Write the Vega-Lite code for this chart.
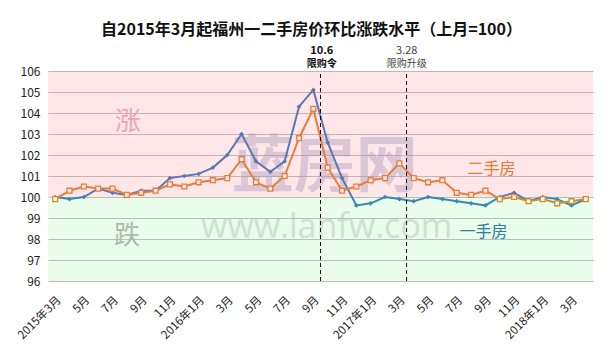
{
  "$schema": "https://vega.github.io/schema/vega-lite/v6.json",
  "width": 545,
  "height": 210,
  "autosize": {"type": "none"},
  "padding": {"left": 48, "top": 71, "right": 23, "bottom": 74},
  "background": "white",
  "data": {"values": [{}]},
  "title": {"text": "自2015年3月起福州一二手房价环比涨跌水平（上月=100）", "fontSize": 16, "fontWeight": "bold", "font": "Noto Sans CJK SC", "color": "#111", "anchor": "middle", "offset": 7, "dx": -9},
  "config": {
    "font": "Noto Sans CJK SC",
    "view": {"stroke": null},
    "axisX": {"title": null, "labelAngle": -45, "labelFontSize": 11.5, "labelColor": "#222", "ticks": false, "domain": false, "grid": false, "labelPadding": 13},
    "axisY": {"title": null, "labelFontSize": 12, "labelColor": "#222", "ticks": false, "domain": false, "grid": true, "gridColor": "#bdbdbd", "labelPadding": 8, "labelOverlap": false, "tickCount": 10}
  },
  "datasets": {
    "rows": [
      {"m": "2015-03", "type": "一手房", "v": 100.0}, {"m": "2015-04", "type": "一手房", "v": 99.9},
      {"m": "2015-05", "type": "一手房", "v": 100.0}, {"m": "2015-06", "type": "一手房", "v": 100.4},
      {"m": "2015-07", "type": "一手房", "v": 100.2}, {"m": "2015-08", "type": "一手房", "v": 100.1},
      {"m": "2015-09", "type": "一手房", "v": 100.3}, {"m": "2015-10", "type": "一手房", "v": 100.3},
      {"m": "2015-11", "type": "一手房", "v": 100.9}, {"m": "2015-12", "type": "一手房", "v": 101.0},
      {"m": "2016-01", "type": "一手房", "v": 101.1}, {"m": "2016-02", "type": "一手房", "v": 101.4},
      {"m": "2016-03", "type": "一手房", "v": 102.0}, {"m": "2016-04", "type": "一手房", "v": 103.0},
      {"m": "2016-05", "type": "一手房", "v": 101.7}, {"m": "2016-06", "type": "一手房", "v": 101.2},
      {"m": "2016-07", "type": "一手房", "v": 101.7}, {"m": "2016-08", "type": "一手房", "v": 104.3},
      {"m": "2016-09", "type": "一手房", "v": 105.1}, {"m": "2016-10", "type": "一手房", "v": 102.6},
      {"m": "2016-11", "type": "一手房", "v": 100.9}, {"m": "2016-12", "type": "一手房", "v": 99.6},
      {"m": "2017-01", "type": "一手房", "v": 99.7}, {"m": "2017-02", "type": "一手房", "v": 100.0},
      {"m": "2017-03", "type": "一手房", "v": 99.9}, {"m": "2017-04", "type": "一手房", "v": 99.8},
      {"m": "2017-05", "type": "一手房", "v": 100.0}, {"m": "2017-06", "type": "一手房", "v": 99.9},
      {"m": "2017-07", "type": "一手房", "v": 99.8}, {"m": "2017-08", "type": "一手房", "v": 99.7},
      {"m": "2017-09", "type": "一手房", "v": 99.6}, {"m": "2017-10", "type": "一手房", "v": 100.0},
      {"m": "2017-11", "type": "一手房", "v": 100.2}, {"m": "2017-12", "type": "一手房", "v": 99.8},
      {"m": "2018-01", "type": "一手房", "v": 100.0}, {"m": "2018-02", "type": "一手房", "v": 99.9},
      {"m": "2018-03", "type": "一手房", "v": 99.6}, {"m": "2018-04", "type": "一手房", "v": 99.9},
      {"m": "2015-03", "type": "二手房", "v": 99.9}, {"m": "2015-04", "type": "二手房", "v": 100.3},
      {"m": "2015-05", "type": "二手房", "v": 100.5}, {"m": "2015-06", "type": "二手房", "v": 100.4},
      {"m": "2015-07", "type": "二手房", "v": 100.4}, {"m": "2015-08", "type": "二手房", "v": 100.1},
      {"m": "2015-09", "type": "二手房", "v": 100.2}, {"m": "2015-10", "type": "二手房", "v": 100.3},
      {"m": "2015-11", "type": "二手房", "v": 100.6}, {"m": "2015-12", "type": "二手房", "v": 100.5},
      {"m": "2016-01", "type": "二手房", "v": 100.7}, {"m": "2016-02", "type": "二手房", "v": 100.8},
      {"m": "2016-03", "type": "二手房", "v": 100.9}, {"m": "2016-04", "type": "二手房", "v": 101.8},
      {"m": "2016-05", "type": "二手房", "v": 100.7}, {"m": "2016-06", "type": "二手房", "v": 100.4},
      {"m": "2016-07", "type": "二手房", "v": 101.0}, {"m": "2016-08", "type": "二手房", "v": 102.8},
      {"m": "2016-09", "type": "二手房", "v": 104.2}, {"m": "2016-10", "type": "二手房", "v": 101.4},
      {"m": "2016-11", "type": "二手房", "v": 100.3}, {"m": "2016-12", "type": "二手房", "v": 100.5},
      {"m": "2017-01", "type": "二手房", "v": 100.8}, {"m": "2017-02", "type": "二手房", "v": 100.9},
      {"m": "2017-03", "type": "二手房", "v": 101.6}, {"m": "2017-04", "type": "二手房", "v": 100.9},
      {"m": "2017-05", "type": "二手房", "v": 100.7}, {"m": "2017-06", "type": "二手房", "v": 100.8},
      {"m": "2017-07", "type": "二手房", "v": 100.2}, {"m": "2017-08", "type": "二手房", "v": 100.1},
      {"m": "2017-09", "type": "二手房", "v": 100.3}, {"m": "2017-10", "type": "二手房", "v": 99.9},
      {"m": "2017-11", "type": "二手房", "v": 100.0}, {"m": "2017-12", "type": "二手房", "v": 99.8},
      {"m": "2018-01", "type": "二手房", "v": 99.9}, {"m": "2018-02", "type": "二手房", "v": 99.7},
      {"m": "2018-03", "type": "二手房", "v": 99.8}, {"m": "2018-04", "type": "二手房", "v": 99.9}
    ],
    "events": [{"m": "2016-10"}, {"m": "2017-04"}]
  },
  "layer": [
    {
      "mark": {"type": "text", "text": "蓝房网", "fontSize": 62, "fontWeight": "bold", "color": "#8C9BBF", "opacity": 0.38, "dx": -3},
      "encoding": {
        "x": {"datum": "2016-10", "type": "ordinal"},
        "y": {"datum": 101.38, "type": "quantitative", "axis": {"tickCount": 10, "labelOverlap": false}}
      }
    },
    {
      "mark": {"type": "text", "text": "www.lanfw.com", "fontSize": 34, "color": "#A0A8B0", "opacity": 0.35, "dx": -1, "font": "Open Sans"},
      "encoding": {"x": {"datum": "2016-10", "type": "ordinal"}, "y": {"datum": 98.52, "type": "quantitative"}}
    },
    {
      "data": {"name": "rows"},
      "mark": {"type": "line", "strokeWidth": 2},
      "encoding": {
        "x": {"field": "m", "type": "ordinal", "scale": {"type": "band", "paddingInner": 0, "paddingOuter": 0},
          "axis": {"labelExpr": "(toNumber(slice(datum.value,5)) % 2 == 1) ? ((slice(datum.value,5) == '01' || datum.value == '2015-03') ? slice(datum.value,0,4) + '年' + toNumber(slice(datum.value,5)) + '月' : toNumber(slice(datum.value,5)) + '月') : ''"}},
        "y": {"field": "v", "type": "quantitative", "scale": {"domain": [96, 106], "nice": false, "zero": false},
          "axis": {"tickCount": 10, "labelOverlap": false}},
        "color": {"field": "type", "type": "nominal", "scale": {"domain": ["一手房", "二手房"], "range": ["#3176BD", "#E07C27"]}, "legend": null}
      }
    },
    {
      "data": {"name": "rows"},
      "transform": [{"filter": "datum.type == '一手房'"}],
      "mark": {"type": "point", "shape": "diamond", "filled": true, "size": 22, "color": "#3176BD", "opacity": 1},
      "encoding": {"x": {"field": "m", "type": "ordinal"}, "y": {"field": "v", "type": "quantitative"}}
    },
    {
      "data": {"name": "rows"},
      "transform": [{"filter": "datum.type == '二手房'"}],
      "mark": {"type": "point", "shape": "square", "filled": true, "fill": "white", "stroke": "#E07C27", "strokeWidth": 1.3, "size": 24, "opacity": 1},
      "encoding": {"x": {"field": "m", "type": "ordinal"}, "y": {"field": "v", "type": "quantitative"}}
    },
    {
      "mark": {"type": "rect", "color": "#FF8090", "opacity": 0.2},
      "encoding": {"y": {"datum": 100, "type": "quantitative"}, "y2": {"datum": 106}}
    },
    {
      "mark": {"type": "rect", "color": "#70E870", "opacity": 0.15},
      "encoding": {"y": {"datum": 96, "type": "quantitative"}, "y2": {"datum": 100}}
    },
    {
      "data": {"name": "events"},
      "mark": {"type": "rule", "color": "#111", "strokeWidth": 1, "strokeDash": [4, 3]},
      "encoding": {"x": {"field": "m", "type": "ordinal", "bandPosition": 0}, "y": {"datum": 96, "type": "quantitative"}, "y2": {"datum": 106}}
    },
    {
      "mark": {"type": "text", "text": "10.6", "fontSize": 11, "fontWeight": "bold", "color": "#111", "dx": -6},
      "encoding": {"x": {"datum": "2016-10", "type": "ordinal"}, "y": {"datum": 106.97, "type": "quantitative"}}
    },
    {
      "mark": {"type": "text", "text": "限购令", "fontSize": 10, "fontWeight": "bold", "color": "#111", "dx": -6},
      "encoding": {"x": {"datum": "2016-10", "type": "ordinal"}, "y": {"datum": 106.33, "type": "quantitative"}}
    },
    {
      "mark": {"type": "text", "text": "3.28", "fontSize": 11, "color": "#444", "dx": -7},
      "encoding": {"x": {"datum": "2017-04", "type": "ordinal"}, "y": {"datum": 106.97, "type": "quantitative"}}
    },
    {
      "mark": {"type": "text", "text": "限购升级", "fontSize": 10, "color": "#444", "dx": -7},
      "encoding": {"x": {"datum": "2017-04", "type": "ordinal"}, "y": {"datum": 106.33, "type": "quantitative"}}
    },
    {
      "mark": {"type": "text", "text": "涨", "fontSize": 26, "color": "#EBA6B0", "dx": 1},
      "encoding": {"x": {"datum": "2015-08", "type": "ordinal"}, "y": {"datum": 103.57, "type": "quantitative"}}
    },
    {
      "mark": {"type": "text", "text": "跌", "fontSize": 26, "color": "#A9BDAA", "dx": 0},
      "encoding": {"x": {"datum": "2015-08", "type": "ordinal"}, "y": {"datum": 98.14, "type": "quantitative"}}
    },
    {
      "mark": {"type": "text", "text": "二手房", "fontSize": 16, "color": "#E67A2E", "dx": 6},
      "encoding": {"x": {"datum": "2017-09", "type": "ordinal"}, "y": {"datum": 101.31, "type": "quantitative"}}
    },
    {
      "mark": {"type": "text", "text": "一手房", "fontSize": 16, "color": "#2B7FA0", "dx": -2},
      "encoding": {"x": {"datum": "2017-09", "type": "ordinal"}, "y": {"datum": 98.33, "type": "quantitative"}}
    }
  ]
}
